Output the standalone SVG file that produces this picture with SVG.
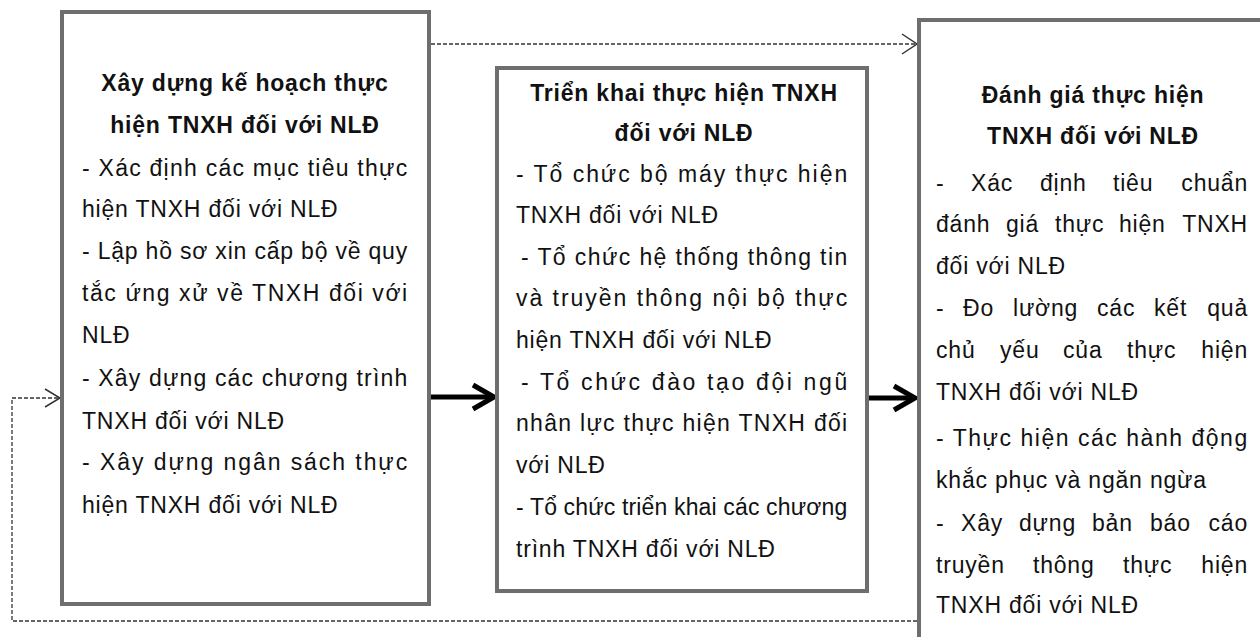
<svg xmlns="http://www.w3.org/2000/svg" width="1260" height="637" viewBox="0 0 1260 637">
  <style>
    .box { fill: #ffffff; stroke: #6e6e6e; stroke-width: 4; }
    text { font-family: "Liberation Sans", Arial, sans-serif; font-size: 23px; fill: #111111; letter-spacing: 0.8px; }
    .title { font-weight: bold; text-anchor: middle; }
    .end { text-anchor: end; }
    .dash { fill: none; stroke: #333333; stroke-width: 1.3; stroke-dasharray: 4 2; }
    .head { fill: none; stroke: #333333; stroke-width: 1.5; }
    .thick { fill: none; stroke: #000000; stroke-width: 5; }
  </style>
  <rect width="1260" height="637" fill="#ffffff"/>

  <!-- Connectors -->
  <g id="connectors">
    <!-- plan -> evaluation (dashed, top) -->
    <line class="dash" x1="431" y1="44" x2="916" y2="44"/>
    <polyline class="head" points="902,34 917,44 902,54"/>
    <!-- evaluation -> plan (dashed feedback loop) -->
    <polyline class="dash" points="917,621 12,621 12,398 59,398"/>
    <polyline class="head" points="45,389 60,398 45,407"/>
    <!-- plan -> implementation -->
    <line class="thick" x1="431" y1="397" x2="493" y2="397"/>
    <polyline class="thick" points="473,385 494,397 473,409"/>
    <!-- implementation -> evaluation -->
    <line class="thick" x1="869" y1="398" x2="914" y2="398"/>
    <polyline class="thick" points="894,386 915,398 894,410"/>
  </g>

  <!-- Step 1: planning -->
  <g id="node-plan">
    <rect class="box" x="62" y="12" width="367" height="592"/>
    <text class="title" x="245" y="91">Xây dựng kế hoạch thực</text>
    <text class="title" x="245" y="133">hiện TNXH đối với NLĐ</text>
    <text x="82" y="176" textLength="326" lengthAdjust="spacing">- Xác định các mục tiêu thực</text>
    <text x="82" y="217">hiện TNXH đối với NLĐ</text>
    <text x="82" y="259" textLength="326" lengthAdjust="spacing">- Lập hồ sơ xin cấp bộ về quy</text>
    <text x="82" y="301" textLength="326" lengthAdjust="spacing">tắc ứng xử về TNXH đối với</text>
    <text x="82" y="343">NLĐ</text>
    <text x="82" y="386" textLength="326" lengthAdjust="spacing">- Xây dựng các chương trình</text>
    <text x="82" y="429">TNXH đối với NLĐ</text>
    <text x="82" y="470" textLength="326" lengthAdjust="spacing">- Xây dựng ngân sách thực</text>
    <text x="82" y="513">hiện TNXH đối với NLĐ</text>
  </g>

  <!-- Step 2: implementation -->
  <g id="node-implement">
    <rect class="box" x="497" y="68" width="370" height="523"/>
    <text class="title" x="684" y="101">Triển khai thực hiện TNXH</text>
    <text class="title" x="684" y="141">đối với NLĐ</text>
    <text x="516" y="182" textLength="332" lengthAdjust="spacing">- Tổ chức bộ máy thực hiện</text>
    <text x="516" y="223">TNXH đối với NLĐ</text>
    <text x="521" y="265" textLength="327" lengthAdjust="spacing">- Tổ chức hệ thống thông tin</text>
    <text x="516" y="306" textLength="332" lengthAdjust="spacing">và truyền thông nội bộ thực</text>
    <text x="516" y="348">hiện TNXH đối với NLĐ</text>
    <text x="521" y="390" textLength="327" lengthAdjust="spacing">- Tổ chức đào tạo đội ngũ</text>
    <text x="516" y="431" textLength="332" lengthAdjust="spacing">nhân lực thực hiện TNXH đối</text>
    <text x="516" y="473">với NLĐ</text>
    <text x="516" y="515" textLength="332" lengthAdjust="spacing">- Tổ chức triển khai các chương</text>
    <text x="516" y="557">trình TNXH đối với NLĐ</text>
  </g>

  <!-- Step 3: evaluation -->
  <g id="node-evaluate">
    <rect class="box" x="919" y="20" width="400" height="700"/>
    <text class="title" x="1093" y="103">Đánh giá thực hiện</text>
    <text class="title" x="1093" y="144">TNXH đối với NLĐ</text>
    <text y="191"><tspan x="936">-</tspan><tspan x="971">Xác</tspan><tspan x="1040">định</tspan><tspan x="1113">tiêu</tspan></text>
    <text class="end" x="1248" y="191">chuẩn</text>
    <text y="232"><tspan x="936">đánh</tspan><tspan x="1006">giá</tspan><tspan x="1055">thực</tspan><tspan x="1119">hiện</tspan></text>
    <text class="end" x="1248" y="232">TNXH</text>
    <text x="936" y="274">đối với NLĐ</text>
    <text y="316"><tspan x="936">-</tspan><tspan x="963">Đo</tspan><tspan x="1013">lường</tspan><tspan x="1097">các</tspan><tspan x="1154">kết</tspan></text>
    <text class="end" x="1248" y="316">quả</text>
    <text y="358"><tspan x="936">chủ</tspan><tspan x="1000">yếu</tspan><tspan x="1063">của</tspan><tspan x="1127">thực</tspan></text>
    <text class="end" x="1248" y="358">hiện</text>
    <text x="936" y="400">TNXH đối với NLĐ</text>
    <text x="936" y="446" textLength="312" lengthAdjust="spacing">- Thực hiện các hành động</text>
    <text x="936" y="488">khắc phục và ngăn ngừa</text>
    <text y="531"><tspan x="936">-</tspan><tspan x="961">Xây</tspan><tspan x="1019">dựng</tspan><tspan x="1092">bản</tspan><tspan x="1150">báo</tspan></text>
    <text class="end" x="1248" y="531">cáo</text>
    <text y="573"><tspan x="936">truyền</tspan><tspan x="1033">thông</tspan><tspan x="1123">thực</tspan></text>
    <text class="end" x="1248" y="573">hiện</text>
    <text x="936" y="613">TNXH đối với NLĐ</text>
  </g>
</svg>
